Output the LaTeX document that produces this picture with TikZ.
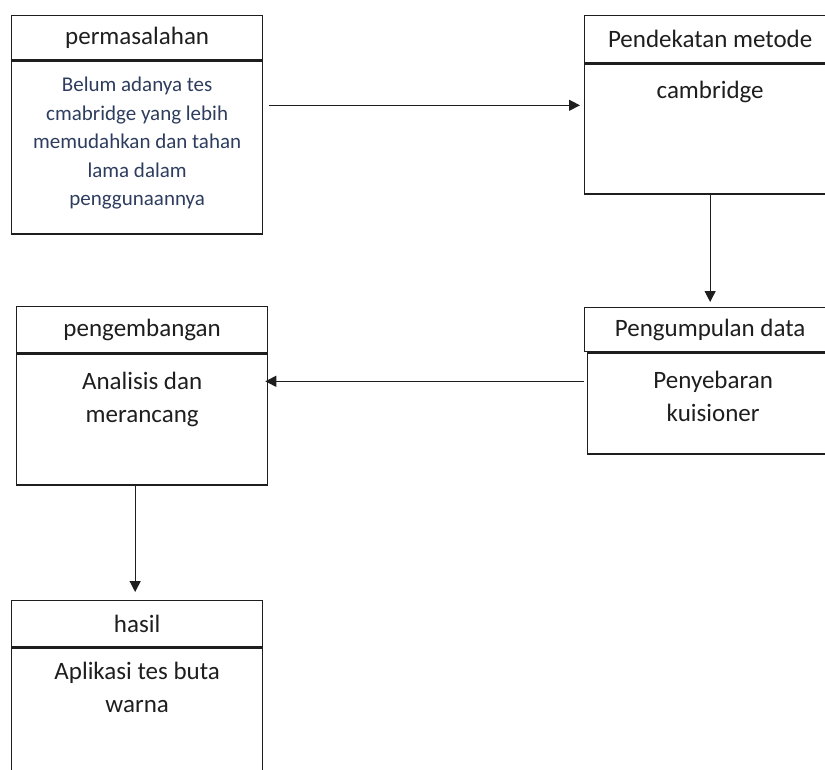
\documentclass[tikz,border=0pt]{standalone}
\usepackage{fontspec}
\setmainfont{Carlito}
\usetikzlibrary{arrows.meta, positioning, calc}
\definecolor{cink}{HTML}{1E1E1E}
\definecolor{cnavy}{HTML}{2E3D5E}
\tikzset{
  every picture/.style={line width=1.3pt},
  head/.style={draw=cink, rectangle, minimum width=251pt, minimum height=#1, inner sep=0pt,
    font=\fontsize{25}{33}\selectfont, text=cink},
  head/.default=46pt,
  frame/.style={draw=cink, rectangle, minimum width=251pt, minimum height=#1, inner sep=0pt},
  frame/.default=130pt,
  body/.style={align=center, inner sep=0pt, font=\fontsize{25}{33}\selectfont, text=cink},
  arrow/.style={-{Triangle[length=11pt,width=11pt]}, draw=cink, line width=1.2pt},
}
\begin{document}
\begin{tikzpicture}[x=1pt, y=-1pt]
  \useasboundingbox (0,0) rectangle (825,769);
  \clip (0,0) rectangle (825,769);
  % ---- top left: permasalahan ----
  \node[head=44pt, anchor=north west] (masalah) at (11,15) {permasalahan};
  \node[frame=173pt, below=0pt of masalah] (masalahBox) {};
  \node[body, text=cnavy, font=\fontsize{21}{28.5}\selectfont, below=16pt of masalahBox.north] (masalahIsi)
    {Belum adanya tes\\cmabridge yang lebih\\memudahkan dan tahan\\lama dalam\\penggunaannya};
  % ---- top right: pendekatan metode ----
  \node[head=47pt, anchor=north west] (metode) at (584,15) {Pendekatan metode};
  \node[frame=130pt, below=0pt of metode] (metodeBox) {};
  \node[body, below=17pt of metodeBox.north] (metodeIsi) {cambridge};
  % ---- middle right: pengumpulan data ----
  \node[head=44pt, anchor=north west] (data) at (584,307) {Pengumpulan data};
  \node[frame=101pt, below=0pt of data, xshift=3pt] (dataBox) {};
  \node[body, below=18pt of dataBox.north] (dataIsi) {Penyebaran\\kuisioner};
  % ---- middle left: pengembangan ----
  \node[head=46pt, anchor=north west] (kembang) at (16,306) {pengembangan};
  \node[frame=131pt, below=0pt of kembang] (kembangBox) {};
  \node[body, below=18pt of kembangBox.north] (kembangIsi) {Analisis dan\\merancang};
  % ---- bottom left: hasil ----
  \node[head=46pt, anchor=north west] (hasil) at (11,600) {hasil};
  \node[frame=160pt, below=0pt of hasil] (hasilBox) {};
  \node[body, below=14pt of hasilBox.north] (hasilIsi) {Aplikasi tes buta\\warna};
  % ---- connectors ----
  \coordinate (a1) at ($(masalahBox.north east)+(6,45)$);
  \draw[arrow] (a1) -- ([xshift=-4pt]a1 -| metodeBox.west);
  \draw[arrow] (metodeBox.south) -- ([yshift=5pt]data.north);
  \coordinate (a3) at ($(dataBox.north west)+(-3,29)$);
  \draw[arrow] (a3) -- ([xshift=-3pt]a3 -| kembangBox.east);
  \draw[arrow] ([xshift=-7pt]kembangBox.south) -- ([xshift=-7pt,yshift=8pt]kembangBox.south |- hasil.north);
\end{tikzpicture}
\end{document}
